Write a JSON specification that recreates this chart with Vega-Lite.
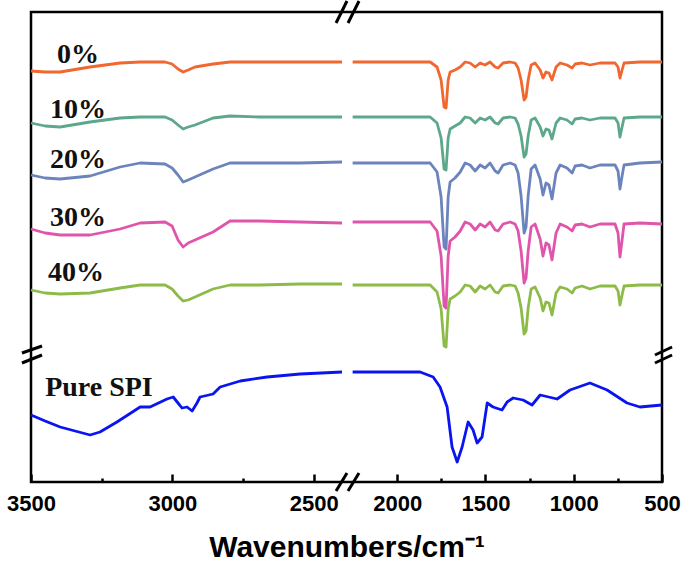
{
"$schema": "https://vega.github.io/schema/vega-lite/v6.json",
"width": 631, "height": 470,
"autosize": {"type": "none"},
"padding": {"left": 31, "top": 12, "right": 23, "bottom": 81},
"config": {"view": {"stroke": "black", "strokeWidth": 2.5}, "font": "Liberation Sans"},
"datasets": {
"spectra": [
{"s":"0%","g":"L","wn":3500,"T":411},{"s":"0%","g":"L","wn":3450,"T":410},{"s":"0%","g":"L","wn":3397,"T":410},{"s":"0%","g":"L","wn":3291,"T":415},{"s":"0%","g":"L","wn":3185,"T":419},{"s":"0%","g":"L","wn":3114,"T":420},{"s":"0%","g":"L","wn":3026,"T":420},{"s":"0%","g":"L","wn":3001,"T":418},{"s":"0%","g":"L","wn":2980,"T":413},{"s":"0%","g":"L","wn":2962,"T":410},{"s":"0%","g":"L","wn":2944,"T":412},{"s":"0%","g":"L","wn":2920,"T":415},{"s":"0%","g":"L","wn":2856,"T":418},{"s":"0%","g":"L","wn":2796,"T":420},{"s":"0%","g":"L","wn":2690,"T":420},{"s":"0%","g":"L","wn":2548,"T":420},{"s":"0%","g":"L","wn":2400,"T":420},
{"s":"0%","g":"R","wn":2255,"T":420},{"s":"0%","g":"R","wn":1926,"T":420},{"s":"0%","g":"R","wn":1813,"T":420},{"s":"0%","g":"R","wn":1774,"T":415},{"s":"0%","g":"R","wn":1751,"T":402},{"s":"0%","g":"R","wn":1734,"T":375},{"s":"0%","g":"R","wn":1723,"T":374},{"s":"0%","g":"R","wn":1711,"T":402},{"s":"0%","g":"R","wn":1700,"T":410},{"s":"0%","g":"R","wn":1672,"T":412},{"s":"0%","g":"R","wn":1643,"T":415},{"s":"0%","g":"R","wn":1615,"T":420},{"s":"0%","g":"R","wn":1587,"T":419},{"s":"0%","g":"R","wn":1558,"T":415},{"s":"0%","g":"R","wn":1530,"T":419},{"s":"0%","g":"R","wn":1502,"T":417},{"s":"0%","g":"R","wn":1474,"T":420},{"s":"0%","g":"R","wn":1445,"T":415},{"s":"0%","g":"R","wn":1428,"T":414},{"s":"0%","g":"R","wn":1400,"T":419},{"s":"0%","g":"R","wn":1360,"T":420},{"s":"0%","g":"R","wn":1332,"T":419},{"s":"0%","g":"R","wn":1315,"T":414},{"s":"0%","g":"R","wn":1298,"T":402},{"s":"0%","g":"R","wn":1281,"T":382},{"s":"0%","g":"R","wn":1270,"T":385},{"s":"0%","g":"R","wn":1258,"T":402},{"s":"0%","g":"R","wn":1241,"T":417},{"s":"0%","g":"R","wn":1219,"T":419},{"s":"0%","g":"R","wn":1190,"T":412},{"s":"0%","g":"R","wn":1174,"T":404},{"s":"0%","g":"R","wn":1157,"T":410},{"s":"0%","g":"R","wn":1140,"T":409},{"s":"0%","g":"R","wn":1123,"T":402},{"s":"0%","g":"R","wn":1100,"T":415},{"s":"0%","g":"R","wn":1077,"T":419},{"s":"0%","g":"R","wn":1038,"T":417},{"s":"0%","g":"R","wn":1009,"T":414},{"s":"0%","g":"R","wn":992,"T":418},{"s":"0%","g":"R","wn":953,"T":419},{"s":"0%","g":"R","wn":908,"T":417},{"s":"0%","g":"R","wn":851,"T":419},{"s":"0%","g":"R","wn":766,"T":419},{"s":"0%","g":"R","wn":749,"T":415},{"s":"0%","g":"R","wn":738,"T":404},{"s":"0%","g":"R","wn":726,"T":412},{"s":"0%","g":"R","wn":715,"T":419},{"s":"0%","g":"R","wn":625,"T":420},{"s":"0%","g":"R","wn":500,"T":420},

{"s":"10%","g":"L","wn":3500,"T":359},{"s":"10%","g":"L","wn":3450,"T":356},{"s":"10%","g":"L","wn":3397,"T":355},{"s":"10%","g":"L","wn":3291,"T":360},{"s":"10%","g":"L","wn":3185,"T":364},{"s":"10%","g":"L","wn":3114,"T":365},{"s":"10%","g":"L","wn":3026,"T":365},{"s":"10%","g":"L","wn":3001,"T":362},{"s":"10%","g":"L","wn":2980,"T":357},{"s":"10%","g":"L","wn":2962,"T":353},{"s":"10%","g":"L","wn":2944,"T":355},{"s":"10%","g":"L","wn":2920,"T":357},{"s":"10%","g":"L","wn":2856,"T":364},{"s":"10%","g":"L","wn":2796,"T":366},{"s":"10%","g":"L","wn":2690,"T":365},{"s":"10%","g":"L","wn":2548,"T":365},{"s":"10%","g":"L","wn":2400,"T":365},
{"s":"10%","g":"R","wn":2255,"T":365},{"s":"10%","g":"R","wn":1926,"T":365},{"s":"10%","g":"R","wn":1813,"T":365},{"s":"10%","g":"R","wn":1774,"T":359},{"s":"10%","g":"R","wn":1751,"T":344},{"s":"10%","g":"R","wn":1734,"T":313},{"s":"10%","g":"R","wn":1723,"T":312},{"s":"10%","g":"R","wn":1711,"T":344},{"s":"10%","g":"R","wn":1700,"T":353},{"s":"10%","g":"R","wn":1672,"T":356},{"s":"10%","g":"R","wn":1643,"T":359},{"s":"10%","g":"R","wn":1615,"T":365},{"s":"10%","g":"R","wn":1587,"T":364},{"s":"10%","g":"R","wn":1558,"T":359},{"s":"10%","g":"R","wn":1530,"T":364},{"s":"10%","g":"R","wn":1502,"T":362},{"s":"10%","g":"R","wn":1474,"T":365},{"s":"10%","g":"R","wn":1445,"T":359},{"s":"10%","g":"R","wn":1428,"T":358},{"s":"10%","g":"R","wn":1400,"T":364},{"s":"10%","g":"R","wn":1360,"T":365},{"s":"10%","g":"R","wn":1332,"T":364},{"s":"10%","g":"R","wn":1315,"T":358},{"s":"10%","g":"R","wn":1298,"T":346},{"s":"10%","g":"R","wn":1281,"T":325},{"s":"10%","g":"R","wn":1270,"T":328},{"s":"10%","g":"R","wn":1258,"T":346},{"s":"10%","g":"R","wn":1241,"T":362},{"s":"10%","g":"R","wn":1219,"T":364},{"s":"10%","g":"R","wn":1190,"T":355},{"s":"10%","g":"R","wn":1174,"T":346},{"s":"10%","g":"R","wn":1157,"T":353},{"s":"10%","g":"R","wn":1140,"T":352},{"s":"10%","g":"R","wn":1123,"T":343},{"s":"10%","g":"R","wn":1100,"T":359},{"s":"10%","g":"R","wn":1077,"T":364},{"s":"10%","g":"R","wn":1038,"T":362},{"s":"10%","g":"R","wn":1009,"T":358},{"s":"10%","g":"R","wn":992,"T":363},{"s":"10%","g":"R","wn":953,"T":364},{"s":"10%","g":"R","wn":908,"T":362},{"s":"10%","g":"R","wn":851,"T":364},{"s":"10%","g":"R","wn":766,"T":364},{"s":"10%","g":"R","wn":749,"T":359},{"s":"10%","g":"R","wn":738,"T":345},{"s":"10%","g":"R","wn":726,"T":355},{"s":"10%","g":"R","wn":715,"T":364},{"s":"10%","g":"R","wn":625,"T":365},{"s":"10%","g":"R","wn":500,"T":365},

{"s":"20%","g":"L","wn":3500,"T":307},{"s":"20%","g":"L","wn":3450,"T":304},{"s":"20%","g":"L","wn":3397,"T":303},{"s":"20%","g":"L","wn":3291,"T":306},{"s":"20%","g":"L","wn":3185,"T":315},{"s":"20%","g":"L","wn":3114,"T":319},{"s":"20%","g":"L","wn":3026,"T":318},{"s":"20%","g":"L","wn":3001,"T":314},{"s":"20%","g":"L","wn":2980,"T":307},{"s":"20%","g":"L","wn":2962,"T":300},{"s":"20%","g":"L","wn":2944,"T":302},{"s":"20%","g":"L","wn":2920,"T":305},{"s":"20%","g":"L","wn":2856,"T":313},{"s":"20%","g":"L","wn":2796,"T":319},{"s":"20%","g":"L","wn":2690,"T":319},{"s":"20%","g":"L","wn":2548,"T":319},{"s":"20%","g":"L","wn":2400,"T":320},
{"s":"20%","g":"R","wn":2255,"T":319},{"s":"20%","g":"R","wn":1926,"T":319},{"s":"20%","g":"R","wn":1813,"T":319},{"s":"20%","g":"R","wn":1774,"T":310},{"s":"20%","g":"R","wn":1751,"T":285},{"s":"20%","g":"R","wn":1734,"T":235},{"s":"20%","g":"R","wn":1723,"T":233},{"s":"20%","g":"R","wn":1711,"T":285},{"s":"20%","g":"R","wn":1700,"T":300},{"s":"20%","g":"R","wn":1672,"T":304},{"s":"20%","g":"R","wn":1643,"T":310},{"s":"20%","g":"R","wn":1615,"T":319},{"s":"20%","g":"R","wn":1587,"T":317},{"s":"20%","g":"R","wn":1558,"T":311},{"s":"20%","g":"R","wn":1530,"T":317},{"s":"20%","g":"R","wn":1502,"T":314},{"s":"20%","g":"R","wn":1474,"T":319},{"s":"20%","g":"R","wn":1445,"T":311},{"s":"20%","g":"R","wn":1428,"T":309},{"s":"20%","g":"R","wn":1400,"T":317},{"s":"20%","g":"R","wn":1360,"T":319},{"s":"20%","g":"R","wn":1332,"T":317},{"s":"20%","g":"R","wn":1315,"T":309},{"s":"20%","g":"R","wn":1298,"T":286},{"s":"20%","g":"R","wn":1281,"T":249},{"s":"20%","g":"R","wn":1270,"T":255},{"s":"20%","g":"R","wn":1258,"T":286},{"s":"20%","g":"R","wn":1241,"T":313},{"s":"20%","g":"R","wn":1219,"T":317},{"s":"20%","g":"R","wn":1190,"T":303},{"s":"20%","g":"R","wn":1174,"T":287},{"s":"20%","g":"R","wn":1157,"T":299},{"s":"20%","g":"R","wn":1140,"T":297},{"s":"20%","g":"R","wn":1123,"T":283},{"s":"20%","g":"R","wn":1100,"T":309},{"s":"20%","g":"R","wn":1077,"T":317},{"s":"20%","g":"R","wn":1038,"T":314},{"s":"20%","g":"R","wn":1009,"T":309},{"s":"20%","g":"R","wn":992,"T":316},{"s":"20%","g":"R","wn":953,"T":317},{"s":"20%","g":"R","wn":908,"T":314},{"s":"20%","g":"R","wn":851,"T":317},{"s":"20%","g":"R","wn":766,"T":317},{"s":"20%","g":"R","wn":749,"T":311},{"s":"20%","g":"R","wn":738,"T":293},{"s":"20%","g":"R","wn":726,"T":306},{"s":"20%","g":"R","wn":715,"T":317},{"s":"20%","g":"R","wn":625,"T":319},{"s":"20%","g":"R","wn":500,"T":320},

{"s":"30%","g":"L","wn":3500,"T":253},{"s":"30%","g":"L","wn":3450,"T":249},{"s":"30%","g":"L","wn":3397,"T":247},{"s":"30%","g":"L","wn":3291,"T":247},{"s":"30%","g":"L","wn":3185,"T":253},{"s":"30%","g":"L","wn":3114,"T":259},{"s":"30%","g":"L","wn":3026,"T":260},{"s":"30%","g":"L","wn":3001,"T":256},{"s":"30%","g":"L","wn":2980,"T":242},{"s":"30%","g":"L","wn":2962,"T":235},{"s":"30%","g":"L","wn":2944,"T":239},{"s":"30%","g":"L","wn":2920,"T":242},{"s":"30%","g":"L","wn":2856,"T":250},{"s":"30%","g":"L","wn":2796,"T":261},{"s":"30%","g":"L","wn":2690,"T":261},{"s":"30%","g":"L","wn":2548,"T":260},{"s":"30%","g":"L","wn":2400,"T":259},
{"s":"30%","g":"R","wn":2255,"T":260},{"s":"30%","g":"R","wn":1926,"T":260},{"s":"30%","g":"R","wn":1813,"T":260},{"s":"30%","g":"R","wn":1774,"T":251},{"s":"30%","g":"R","wn":1751,"T":226},{"s":"30%","g":"R","wn":1734,"T":176},{"s":"30%","g":"R","wn":1723,"T":174},{"s":"30%","g":"R","wn":1711,"T":226},{"s":"30%","g":"R","wn":1700,"T":241},{"s":"30%","g":"R","wn":1672,"T":245},{"s":"30%","g":"R","wn":1643,"T":251},{"s":"30%","g":"R","wn":1615,"T":260},{"s":"30%","g":"R","wn":1587,"T":258},{"s":"30%","g":"R","wn":1558,"T":252},{"s":"30%","g":"R","wn":1530,"T":258},{"s":"30%","g":"R","wn":1502,"T":255},{"s":"30%","g":"R","wn":1474,"T":260},{"s":"30%","g":"R","wn":1445,"T":252},{"s":"30%","g":"R","wn":1428,"T":251},{"s":"30%","g":"R","wn":1400,"T":258},{"s":"30%","g":"R","wn":1360,"T":260},{"s":"30%","g":"R","wn":1332,"T":258},{"s":"30%","g":"R","wn":1315,"T":251},{"s":"30%","g":"R","wn":1298,"T":231},{"s":"30%","g":"R","wn":1281,"T":199},{"s":"30%","g":"R","wn":1270,"T":204},{"s":"30%","g":"R","wn":1258,"T":231},{"s":"30%","g":"R","wn":1241,"T":255},{"s":"30%","g":"R","wn":1219,"T":258},{"s":"30%","g":"R","wn":1190,"T":243},{"s":"30%","g":"R","wn":1174,"T":226},{"s":"30%","g":"R","wn":1157,"T":239},{"s":"30%","g":"R","wn":1140,"T":237},{"s":"30%","g":"R","wn":1123,"T":222},{"s":"30%","g":"R","wn":1100,"T":249},{"s":"30%","g":"R","wn":1077,"T":258},{"s":"30%","g":"R","wn":1038,"T":255},{"s":"30%","g":"R","wn":1009,"T":251},{"s":"30%","g":"R","wn":992,"T":257},{"s":"30%","g":"R","wn":953,"T":258},{"s":"30%","g":"R","wn":908,"T":255},{"s":"30%","g":"R","wn":851,"T":258},{"s":"30%","g":"R","wn":766,"T":258},{"s":"30%","g":"R","wn":749,"T":249},{"s":"30%","g":"R","wn":738,"T":225},{"s":"30%","g":"R","wn":726,"T":242},{"s":"30%","g":"R","wn":715,"T":258},{"s":"30%","g":"R","wn":625,"T":259},{"s":"30%","g":"R","wn":500,"T":258},

{"s":"40%","g":"L","wn":3500,"T":192},{"s":"40%","g":"L","wn":3450,"T":189},{"s":"40%","g":"L","wn":3397,"T":188},{"s":"40%","g":"L","wn":3291,"T":189},{"s":"40%","g":"L","wn":3185,"T":194},{"s":"40%","g":"L","wn":3114,"T":197},{"s":"40%","g":"L","wn":3026,"T":197},{"s":"40%","g":"L","wn":3001,"T":193},{"s":"40%","g":"L","wn":2980,"T":186},{"s":"40%","g":"L","wn":2962,"T":181},{"s":"40%","g":"L","wn":2944,"T":182},{"s":"40%","g":"L","wn":2920,"T":185},{"s":"40%","g":"L","wn":2856,"T":193},{"s":"40%","g":"L","wn":2796,"T":197},{"s":"40%","g":"L","wn":2690,"T":197},{"s":"40%","g":"L","wn":2548,"T":198},{"s":"40%","g":"L","wn":2400,"T":198},
{"s":"40%","g":"R","wn":2255,"T":197},{"s":"40%","g":"R","wn":1926,"T":197},{"s":"40%","g":"R","wn":1813,"T":197},{"s":"40%","g":"R","wn":1774,"T":190},{"s":"40%","g":"R","wn":1751,"T":173},{"s":"40%","g":"R","wn":1734,"T":136},{"s":"40%","g":"R","wn":1723,"T":135},{"s":"40%","g":"R","wn":1711,"T":173},{"s":"40%","g":"R","wn":1700,"T":183},{"s":"40%","g":"R","wn":1672,"T":186},{"s":"40%","g":"R","wn":1643,"T":190},{"s":"40%","g":"R","wn":1615,"T":197},{"s":"40%","g":"R","wn":1587,"T":196},{"s":"40%","g":"R","wn":1558,"T":190},{"s":"40%","g":"R","wn":1530,"T":196},{"s":"40%","g":"R","wn":1502,"T":193},{"s":"40%","g":"R","wn":1474,"T":197},{"s":"40%","g":"R","wn":1445,"T":190},{"s":"40%","g":"R","wn":1428,"T":189},{"s":"40%","g":"R","wn":1400,"T":196},{"s":"40%","g":"R","wn":1360,"T":197},{"s":"40%","g":"R","wn":1332,"T":196},{"s":"40%","g":"R","wn":1315,"T":189},{"s":"40%","g":"R","wn":1298,"T":174},{"s":"40%","g":"R","wn":1281,"T":148},{"s":"40%","g":"R","wn":1270,"T":151},{"s":"40%","g":"R","wn":1258,"T":174},{"s":"40%","g":"R","wn":1241,"T":193},{"s":"40%","g":"R","wn":1219,"T":195},{"s":"40%","g":"R","wn":1190,"T":184},{"s":"40%","g":"R","wn":1174,"T":171},{"s":"40%","g":"R","wn":1157,"T":180},{"s":"40%","g":"R","wn":1140,"T":179},{"s":"40%","g":"R","wn":1123,"T":167},{"s":"40%","g":"R","wn":1100,"T":189},{"s":"40%","g":"R","wn":1077,"T":195},{"s":"40%","g":"R","wn":1038,"T":193},{"s":"40%","g":"R","wn":1009,"T":189},{"s":"40%","g":"R","wn":992,"T":194},{"s":"40%","g":"R","wn":953,"T":196},{"s":"40%","g":"R","wn":908,"T":193},{"s":"40%","g":"R","wn":851,"T":196},{"s":"40%","g":"R","wn":766,"T":196},{"s":"40%","g":"R","wn":749,"T":191},{"s":"40%","g":"R","wn":738,"T":177},{"s":"40%","g":"R","wn":726,"T":187},{"s":"40%","g":"R","wn":715,"T":196},{"s":"40%","g":"R","wn":625,"T":197},{"s":"40%","g":"R","wn":500,"T":197},

{"s":"Pure SPI","g":"L","wn":3500,"T":67},{"s":"Pure SPI","g":"L","wn":3450,"T":61},{"s":"Pure SPI","g":"L","wn":3397,"T":55},{"s":"Pure SPI","g":"L","wn":3291,"T":47},{"s":"Pure SPI","g":"L","wn":3256,"T":50},{"s":"Pure SPI","g":"L","wn":3196,"T":60},{"s":"Pure SPI","g":"L","wn":3114,"T":75},{"s":"Pure SPI","g":"L","wn":3079,"T":75},{"s":"Pure SPI","g":"L","wn":3019,"T":83},{"s":"Pure SPI","g":"L","wn":2997,"T":85},{"s":"Pure SPI","g":"L","wn":2980,"T":79},{"s":"Pure SPI","g":"L","wn":2966,"T":74},{"s":"Pure SPI","g":"L","wn":2948,"T":75},{"s":"Pure SPI","g":"L","wn":2930,"T":71},{"s":"Pure SPI","g":"L","wn":2913,"T":79},{"s":"Pure SPI","g":"L","wn":2902,"T":85},{"s":"Pure SPI","g":"L","wn":2856,"T":88},{"s":"Pure SPI","g":"L","wn":2831,"T":95},{"s":"Pure SPI","g":"L","wn":2760,"T":101},{"s":"Pure SPI","g":"L","wn":2665,"T":105},{"s":"Pure SPI","g":"L","wn":2548,"T":108},{"s":"Pure SPI","g":"L","wn":2400,"T":110},
{"s":"Pure SPI","g":"R","wn":2255,"T":110},{"s":"Pure SPI","g":"R","wn":1870,"T":110},{"s":"Pure SPI","g":"R","wn":1796,"T":105},{"s":"Pure SPI","g":"R","wn":1757,"T":95},{"s":"Pure SPI","g":"R","wn":1717,"T":75},{"s":"Pure SPI","g":"R","wn":1689,"T":35},{"s":"Pure SPI","g":"R","wn":1660,"T":20},{"s":"Pure SPI","g":"R","wn":1632,"T":35},{"s":"Pure SPI","g":"R","wn":1598,"T":60},{"s":"Pure SPI","g":"R","wn":1570,"T":52},{"s":"Pure SPI","g":"R","wn":1547,"T":39},{"s":"Pure SPI","g":"R","wn":1519,"T":45},{"s":"Pure SPI","g":"R","wn":1490,"T":79},{"s":"Pure SPI","g":"R","wn":1457,"T":75},{"s":"Pure SPI","g":"R","wn":1406,"T":72},{"s":"Pure SPI","g":"R","wn":1377,"T":80},{"s":"Pure SPI","g":"R","wn":1343,"T":84},{"s":"Pure SPI","g":"R","wn":1287,"T":82},{"s":"Pure SPI","g":"R","wn":1236,"T":77},{"s":"Pure SPI","g":"R","wn":1190,"T":87},{"s":"Pure SPI","g":"R","wn":1094,"T":83},{"s":"Pure SPI","g":"R","wn":1021,"T":92},{"s":"Pure SPI","g":"R","wn":908,"T":99},{"s":"Pure SPI","g":"R","wn":811,"T":92},{"s":"Pure SPI","g":"R","wn":698,"T":79},{"s":"Pure SPI","g":"R","wn":625,"T":75},{"s":"Pure SPI","g":"R","wn":500,"T":77}
],
"labels": [
{"lab":"0%","wn":3408,"T":419},
{"lab":"10%","wn":3433,"T":364},
{"lab":"20%","wn":3433,"T":314},
{"lab":"30%","wn":3433,"T":256},
{"lab":"40%","wn":3440,"T":201},
{"lab":"Pure SPI","wn":3450,"T":86}
],
"breaks": [
{"wn":2421,"wn2":2332,"T":459,"T2":481},
{"wn":2318,"wn2":2216,"T":459,"T2":481},
{"wn":2421,"wn2":2332,"T":-9,"T2":9},
{"wn":2318,"wn2":2216,"T":-9,"T2":9},
{"wn":3532,"wn2":3461,"T":129,"T2":136},
{"wn":3532,"wn2":3461,"T":119,"T2":127},
{"wn":540,"wn2":443,"T":127,"T2":135},
{"wn":540,"wn2":443,"T":119,"T2":127}
]
},
"layer": [
{
"data": {"name": "spectra"},
"mark": {"type": "line", "strokeWidth": 2.8, "strokeJoin": "round"},
"encoding": {
"x": {"field": "wn", "type": "quantitative",
 "scale": {"domain": [3500, 2400, 2250, 500], "range": [0, 311, 322, 631], "nice": false, "zero": false},
 "axis": {"values": [3500, 3250, 3000, 2750, 2500, 2000, 1750, 1500, 1250, 1000, 750, 500],
  "labelExpr": "datum.value % 500 === 0 ? datum.value + '' : ''",
  "domain": false, "grid": false, "tickColor": "black", "tickWidth": 2.5,
  "tickSize": {"condition": {"test": "datum.value % 500 === 0", "value": -8}, "value": -4},
  "labelFont": "Liberation Sans", "labelFontWeight": "bold", "labelFontSize": 22, "labelColor": "black",
  "labelPadding": 19, "labelFlush": false, "labelOverlap": false,
  "title": "Wavenumbers/cm⁻¹", "titleFont": "Liberation Sans", "titleFontSize": 30, "titleFontWeight": "bold",
  "titleColor": "black", "titleY": 74, "titleBaseline": "alphabetic"}},
"y": {"field": "T", "type": "quantitative", "scale": {"domain": [0, 470], "nice": false, "zero": false}, "axis": null},
"color": {"field": "s", "type": "nominal",
 "scale": {"domain": ["0%", "10%", "20%", "30%", "40%", "Pure SPI"], "range": ["#F0672F", "#5DA78A", "#6C84BD", "#E055AC", "#8DBB47", "#0A14F0"]},
 "legend": null},
"detail": {"field": "g"}
}
},
{
"data": {"name": "labels"},
"mark": {"type": "text", "align": "left", "baseline": "alphabetic", "font": "Liberation Serif", "fontWeight": "bold", "fontSize": 28, "color": "#111"},
"encoding": {
"x": {"field": "wn", "type": "quantitative"},
"y": {"field": "T", "type": "quantitative"},
"text": {"field": "lab"}
}
},
{
"data": {"name": "breaks"},
"mark": {"type": "rule", "strokeWidth": 3, "color": "black"},
"encoding": {
"x": {"field": "wn", "type": "quantitative"},
"x2": {"field": "wn2"},
"y": {"field": "T", "type": "quantitative"},
"y2": {"field": "T2"}
}
}
]
}
